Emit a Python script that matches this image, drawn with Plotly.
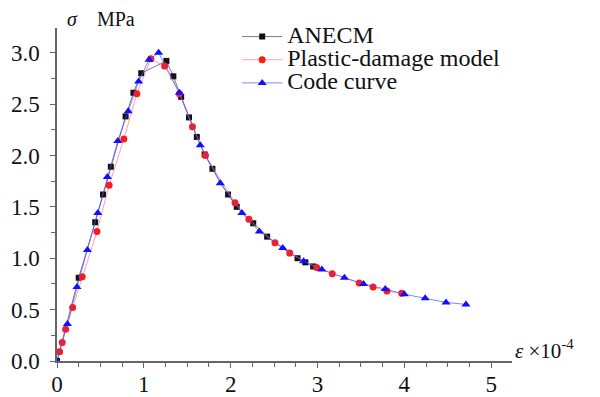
import plotly.graph_objects as go

# ANECM (black squares)
anecm_x = [0, 0.25, 0.44, 0.53, 0.62, 0.79, 0.88, 0.97, 1.26, 1.34, 1.43, 1.52, 1.61, 1.70, 1.79, 1.97, 2.07, 2.26, 2.42, 2.77, 2.86, 2.95]
anecm_y = [0, 0.81, 1.35, 1.62, 1.89, 2.38, 2.61, 2.80, 2.92, 2.77, 2.57, 2.37, 2.18, 2.01, 1.87, 1.62, 1.50, 1.34, 1.21, 1.00, 0.96, 0.92]

# Plastic-damage model (red circles)
pdm_x = [0.03, 0.06, 0.10, 0.18, 0.29, 0.46, 0.60, 0.77, 0.92, 1.08, 1.24, 1.41, 1.56, 1.71, 2.05, 2.21, 2.51, 2.68, 2.99, 3.17, 3.48, 3.64, 3.80, 3.97]
pdm_y = [0.09, 0.18, 0.31, 0.52, 0.82, 1.26, 1.71, 2.16, 2.60, 2.94, 2.87, 2.60, 2.28, 2.00, 1.54, 1.38, 1.15, 1.05, 0.91, 0.85, 0.76, 0.72, 0.68, 0.66]

# Code curve (blue triangles)
code_x = [0, 0.12, 0.23, 0.35, 0.47, 0.58, 0.70, 0.82, 0.94, 1.06, 1.17, 1.41, 1.65, 1.88, 2.13, 2.33, 2.60, 2.84, 3.05, 3.31, 3.53, 3.78, 4.00, 4.24, 4.48, 4.71]
code_y = [0, 0.36, 0.72, 1.08, 1.44, 1.79, 2.14, 2.43, 2.72, 2.93, 3.00, 2.61, 2.10, 1.73, 1.44, 1.26, 1.10, 0.97, 0.89, 0.81, 0.75, 0.70, 0.65, 0.61, 0.57, 0.55]

series_names = ["ANECM", "Plastic-damage model", "Code curve"]
x_ticks = [0, 1, 2, 3, 4, 5]
y_ticks = [0.0, 0.5, 1.0, 1.5, 2.0, 2.5, 3.0]
y_tick_labels = ["0.0", "0.5", "1.0", "1.5", "2.0", "2.5", "3.0"]

FONT = "Liberation Serif"

def legend_name(s):
    return "<span style='font-size:24px'>" + s + "</span>"

fig = go.Figure()
fig.add_trace(go.Scatter(x=anecm_x, y=anecm_y, mode="lines+markers", name=legend_name(series_names[0]),
                         line=dict(color="rgba(90,90,110,0.8)", width=1),
                         marker=dict(symbol="square", size=6, color="#111111")))
fig.add_trace(go.Scatter(x=pdm_x, y=pdm_y, mode="lines+markers", name=legend_name(series_names[1]),
                         line=dict(color="rgba(255,120,140,0.7)", width=1),
                         marker=dict(symbol="circle", size=7, color="#ff1a1a")))
fig.add_trace(go.Scatter(x=code_x, y=code_y, mode="lines+markers", name=legend_name(series_names[2]),
                         line=dict(color="rgba(80,80,255,0.7)", width=1),
                         marker=dict(symbol="triangle-up", size=8, color="#1010ff")))

axis_common = dict(showgrid=False, zeroline=False, showline=True, linecolor="#666666", linewidth=1.5,
                   ticks="outside", ticklen=5, tickwidth=1.2, tickcolor="#666666", automargin=False,
                   tickfont=dict(family=FONT, size=23, color="#111111"))

fig.update_xaxes(range=[0, 5.24], tickvals=x_ticks, ticktext=[str(v) for v in x_ticks], ticklabelstandoff=-3,
                 minor=dict(dtick=0.25, ticks="outside", ticklen=4, tickcolor="#666666", tickwidth=1),
                 **axis_common)
fig.update_yaxes(range=[0, 3.24], tickvals=y_ticks, ticktext=y_tick_labels, ticklabelstandoff=6,
                 minor=dict(dtick=0.25, ticks="outside", ticklen=4, tickcolor="#666666", tickwidth=1),
                 **axis_common)

fig.add_annotation(text="<i>σ</i>    MPa", xref="paper", yref="paper", x=0.018, y=1.027,
                   xanchor="left", yanchor="middle", showarrow=False,
                   font=dict(family=FONT, size=20, color="#111111"))
fig.add_annotation(text="<i>ε</i> ×10<sup>-4</sup>", xref="paper", yref="paper", x=1.003, y=0.036,
                   xanchor="left", yanchor="middle", showarrow=False,
                   font=dict(family=FONT, size=21, color="#111111"))

fig.update_layout(
    width=600, height=397,
    margin=dict(l=57, r=88, t=28, b=36),
    plot_bgcolor="white", paper_bgcolor="white",
    showlegend=True,
    legend=dict(x=0.396, y=1.024, xanchor="left", yanchor="top", bgcolor="rgba(0,0,0,0)",
                font=dict(family=FONT, size=15.5, color="#111111"), tracegroupgap=0,
                itemwidth=40),
)

fig.write_html("out.html", config={"displayModeBar": False},
               post_script="document.body.style.margin='0';document.body.style.overflow='hidden';")
